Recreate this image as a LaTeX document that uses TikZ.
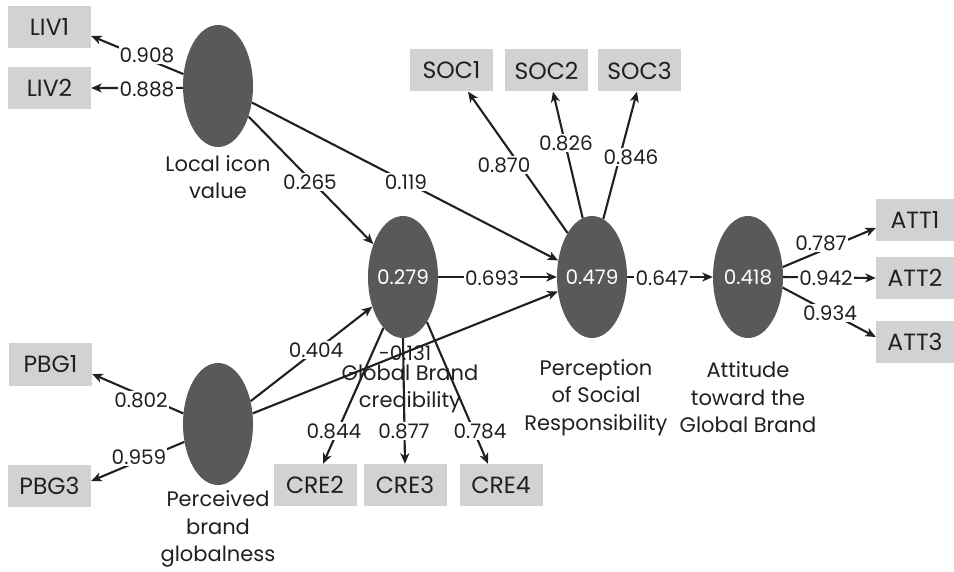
\documentclass[tikz,border=0pt]{standalone}
\usepackage{fontspec}
\setmainfont{Poppins}
\usetikzlibrary{shapes.geometric,arrows.meta}
\definecolor{boxgray}{RGB}{209,210,212}
\definecolor{latgray}{RGB}{88,89,91}
\definecolor{ink}{RGB}{35,31,32}
\tikzset{
  every node/.style={text=ink, font=\fontsize{20}{27.5}\selectfont},
  ind/.style={rectangle, fill=boxgray, minimum width=83pt, minimum height=42pt, inner sep=0pt, font=\fontsize{23.5}{28}\selectfont},
  latent/.style={ellipse, fill=latgray, minimum width=70pt, minimum height=122pt, inner sep=0pt},
  val/.style={text=white},
  lbl/.style={fill=white, inner sep=1.2pt},
  captext/.style={align=center, font=\fontsize{21}{27.5}\selectfont},
  arr/.style={draw=ink, line width=2.1pt, -{Stealth[length=10.5pt,width=9pt,inset=3pt]}}
}
\begin{document}
\begin{tikzpicture}[x=1pt,y=-1pt]
\useasboundingbox (0,0) rectangle (954,572);
% indicator boxes
\node[ind] (liv1) at (49.5,27.5) {LIV1};
\node[ind] (liv2) at (49.5,88) {LIV2};
\node[ind] (pbg1) at (50.5,364.5) {PBG1};
\node[ind] (pbg3) at (49.5,485.5) {PBG3};
\node[ind] (cre2) at (315,485) {CRE2};
\node[ind] (cre3) at (405,485) {CRE3};
\node[ind] (cre4) at (501,485) {CRE4};
\node[ind] (soc1) at (451.5,70.5) {SOC1};
\node[ind] (soc2) at (546.5,70.5) {SOC2};
\node[ind] (soc3) at (639.5,70.5) {SOC3};
\node[ind, minimum width=78pt] (att1) at (915,220) {ATT1};
\node[ind, minimum width=78pt] (att2) at (915,278) {ATT2};
\node[ind, minimum width=78pt] (att3) at (915,342) {ATT3};
% latent variables
\node[latent] (liv) at (218,86) {};
\node[latent] (pbg) at (218,424) {};
\node[latent] (gbc) at (403,277) {};
\node[latent] (psr) at (592,277) {};
\node[latent] (att) at (748,277) {};
\node[val] (gbcv) at (gbc) {0.279};
\node[val] (psrv) at (psr) {0.479};
\node[val] (attv) at (att) {0.418};
% captions
\node[captext] (livc) at (218,177) {Local icon\\value};
\node[captext] (pbgc) at (218,529) {Perceived\\brand\\globalness};
\node[captext] (gbcc) at (410,389) {Global Brand\\credibility};
\node[captext] (psrc) at (596,397.5) {Perception\\of Social\\Responsibility};
\node[captext] (attc) at (748,397.5) {Attitude\\toward the\\Global Brand};
\node (l131) at (405,353) {-0.131};
% connectors
\draw[arr] (liv.161) -- ([yshift=-8.5pt]liv1.east);
\draw[arr] (liv.183) -- (liv2.east);
\draw[arr] (pbg.163) -- ([yshift=-9.5pt]pbg1.east);
\draw[arr] (pbg.208.5) -- ([yshift=4.5pt]pbg3.east);
\draw[arr] (liv.-45) -- (gbc.132);
\draw[arr] (liv.-26) -- (psr.154);
\draw[arr] (gbc.east) -- (psr.west);
\draw[arr] (pbg.35) -- (gbc.224);
\draw[arr] (pbg.17) -- (psr.203);
\draw[arr] (gbc.249) -- ([xshift=8pt]cre2.north);
\draw[arr] (gbc.south) -- (cre3.north);
\draw[arr] (gbc.-62) -- ([xshift=-13pt]cre4.north);
\draw[arr] (psr.119.6) -- ([xshift=16.5pt]soc1.south);
\draw[arr] (psr.99.5) -- ([xshift=6.5pt]soc2.south);
\draw[arr] (psr.79) -- ([xshift=-2.5pt]soc3.south);
\draw[arr] (psr.east) -- (att.west);
\draw[arr] (att.16) -- ([yshift=-8pt]att1.west);
\draw[arr] (att.east) -- (att2.west);
\draw[arr] (att.-17) -- ([yshift=5pt]att3.west);
% coefficient labels
\node[lbl] (l908) at (147,55) {0.908};
\node[lbl] (l888) at (147,89) {0.888};
\node[lbl] (l265) at (310,182) {0.265};
\node[lbl] (l119) at (406,182) {0.119};
\node[lbl] (l693) at (492,278) {0.693};
\node[lbl] (l404) at (316,350) {0.404};
\node[lbl] (l844) at (334,431) {0.844};
\node[lbl] (l877) at (404,431) {0.877};
\node[lbl] (l784) at (480,431) {0.784};
\node[lbl] (l870) at (504,165) {0.870};
\node[lbl] (l826) at (566,143) {0.826};
\node[lbl] (l846) at (631,157) {0.846};
\node[lbl] (l647) at (662,278) {0.647};
\node[lbl] (l787) at (821,243) {0.787};
\node[lbl] (l942) at (826,278) {0.942};
\node[lbl] (l934) at (830,313) {0.934};
\node[lbl] (l802) at (141,400) {0.802};
\node[lbl] (l959) at (139,457) {0.959};
\end{tikzpicture}
\end{document}
